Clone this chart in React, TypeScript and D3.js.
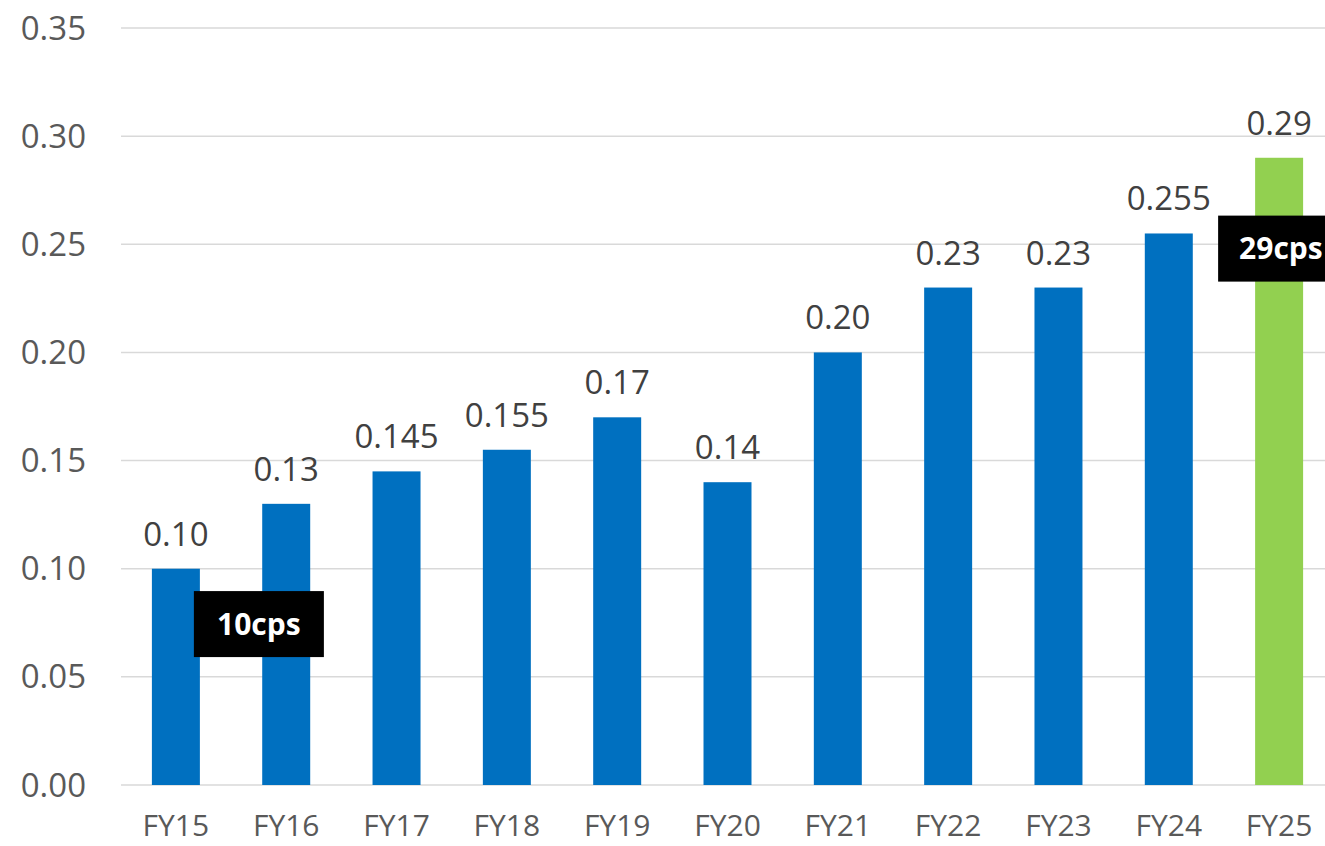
import React from 'react'
import * as d3 from 'd3'

const years = ['FY15', 'FY16', 'FY17', 'FY18', 'FY19', 'FY20', 'FY21', 'FY22', 'FY23', 'FY24', 'FY25']
const dividends = [0.1, 0.13, 0.145, 0.155, 0.17, 0.14, 0.2, 0.23, 0.23, 0.255, 0.29]
const valueLabels = ['0.10', '0.13', '0.145', '0.155', '0.17', '0.14', '0.20', '0.23', '0.23', '0.255', '0.29']
const yTicks = [0, 0.05, 0.1, 0.15, 0.2, 0.25, 0.3, 0.35]
const callouts = [
  {text: '10cps', year: 'FY15', value: 0.0744},
  {text: '29cps', year: 'FY25', value: 0.248}
]

const W = 1325
const H = 846
const font = "'Open Sans', 'Liberation Sans', sans-serif"

export default function App() {
  const x = d3
    .scaleBand<string>()
    .domain(years)
    .range([121, 1334])
    .paddingInner(0.565)
    .paddingOuter(0.28)
  const y = d3.scaleLinear().domain([0, 0.35]).range([785, 28])
  const bw = x.bandwidth()

  return (
    <svg width={W} height={H} style={{position: 'absolute', left: 0, top: 0}} fontFamily={font}>
      <rect width={W} height={H} fill="#fff" />
      {/* gridlines + y labels */}
      {yTicks.map(t => (
        <g key={t}>
          <line x1={121} x2={W} y1={y(t)} y2={y(t)} stroke="#d9d9d9" strokeWidth={1.5} />
          <text x={86} y={y(t)} dy="0.35em" textAnchor="end" fontSize={33} fill="#595959">
            {t.toFixed(2)}
          </text>
        </g>
      ))}
      {/* bars */}
      {years.map((yr, i) => (
        <rect
          key={yr}
          x={x(yr)}
          y={y(dividends[i])}
          width={bw}
          height={y(0) - y(dividends[i])}
          fill={i === years.length - 1 ? '#92D050' : '#0070C0'}
        />
      ))}
      {/* value labels */}
      {years.map((yr, i) => (
        <text
          key={'v' + yr}
          x={(x(yr) || 0) + bw / 2}
          y={y(dividends[i]) - 23}
          textAnchor="middle"
          fontSize={33}
          fill="#404040"
        >
          {valueLabels[i]}
        </text>
      ))}
      {/* x labels */}
      {years.map(yr => (
        <text
          key={'x' + yr}
          x={(x(yr) || 0) + bw / 2}
          y={836}
          textAnchor="middle"
          fontSize={30}
          fill="#595959"
        >
          {yr}
        </text>
      ))}
      {/* callouts */}
      {callouts.map(c => {
        const first = c.year === 'FY15'
        // 10cps sits just over FY15's right edge, 29cps just left of FY25
        const left = first ? (x(c.year) || 0) + bw - 6 : (x(c.year) || 0) - 37
        const cy = y(c.value)
        return (
          <g key={c.text}>
            <rect x={left} y={cy - 33} width={first ? 130 : 140} height={66} fill="#000" />
            <text
              x={first ? left + 65 : left + 21}
              y={cy}
              dy="0.36em"
              textAnchor={first ? 'middle' : 'start'}
              fontSize={30}
              fontWeight="bold"
              fill="#fff"
            >
              {c.text}
            </text>
          </g>
        )
      })}
    </svg>
  )
}
